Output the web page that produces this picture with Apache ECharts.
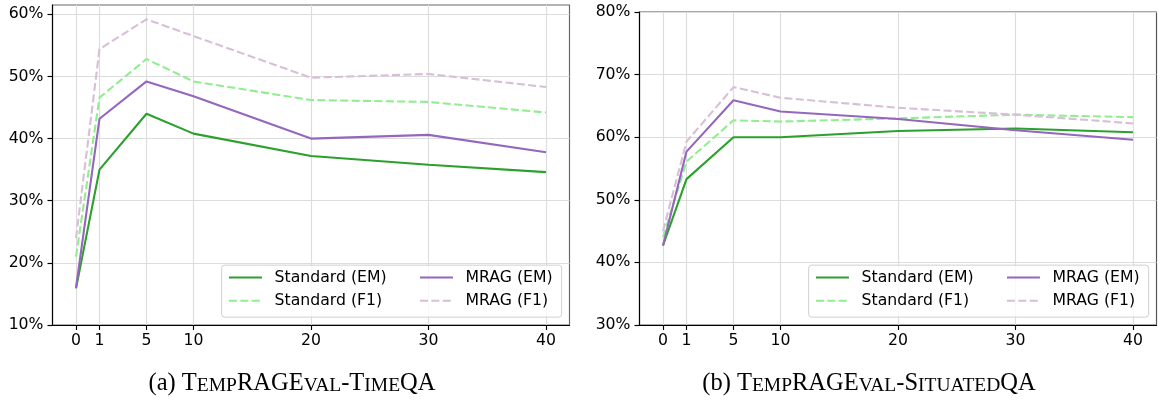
<!DOCTYPE html>
<html>
<head>
<meta charset="utf-8">
<script src="https://cdn.jsdelivr.net/npm/echarts@6/dist/echarts.min.js"></script>
<style>
html,body{margin:0;padding:0;background:#fff;}
#c{width:1158px;height:403px;}
</style>
</head>
<body>
<div id="c"></div>
<script>
// ---- data ----
// number of retrieved items (tick labels) and where each one sits on the x axis
var xTickLabels = [0, 1, 5, 10, 20, 30, 40];
var xPositions  = [0, 2, 6, 10, 20, 30, 40];
var yTicksA = [10, 20, 30, 40, 50, 60];
var yTicksB = [30, 40, 50, 60, 70, 80];
var seriesNames = ['Standard (EM)', 'Standard (F1)', 'MRAG (EM)', 'MRAG (F1)'];

// (a) TempRAGEval-TimeQA
var stdEM_a  = [15.9, 35.0, 44.0, 40.8, 37.2, 35.8, 34.6];
var stdF1_a  = [21.0, 46.6, 52.8, 49.2, 46.2, 45.9, 44.2];
var mragEM_a = [16.0, 43.2, 49.2, 46.8, 40.0, 40.6, 37.8];
var mragF1_a = [24.0, 54.4, 59.2, 56.5, 49.8, 50.4, 48.3];

// (b) TempRAGEval-SituatedQA
var stdEM_b  = [42.7, 53.3, 60.0, 60.0, 61.0, 61.4, 60.8];
var stdF1_b  = [44.0, 56.1, 62.7, 62.5, 63.0, 63.6, 63.2];
var mragEM_b = [42.7, 57.7, 65.9, 64.1, 62.9, 61.1, 59.6];
var mragF1_b = [45.0, 59.3, 68.0, 66.3, 64.7, 63.6, 62.2];

// ---- styles ----
var colors = ['#2ca02c', '#90ee90', '#9467bd', '#d8bfd8'];
var dashed = [false, true, false, true];
var FS = 15.7;
var FONT = 'DejaVu Sans';

function pairs(arr) { return xPositions.map(function (x, i) { return [x, arr[i]]; }); }
function posLabel(v) {
  var i = xPositions.indexOf(v);
  return i >= 0 ? String(xTickLabels[i]) : '';
}

var dataA = [stdEM_a, stdF1_a, mragEM_a, mragF1_a];
var dataB = [stdEM_b, stdF1_b, mragEM_b, mragF1_b];

var series = [];
[dataA, dataB].forEach(function (set, g) {
  set.forEach(function (arr, k) {
    series.push({
      type: 'line',
      name: seriesNames[k],
      xAxisIndex: g, yAxisIndex: g,
      data: pairs(arr),
      symbol: 'none',
      animation: false,
      lineStyle: { color: colors[k], width: 2.1, type: dashed[k] ? [8, 3.4] : 'solid' },
      itemStyle: { color: colors[k] },
      z: 2
    });
  });
});

var grids = [
  { left: 52.5, top: 5, width: 517, height: 320, show: true, borderColor: '#666', borderWidth: 1.15 },
  { left: 639.5, top: 12, width: 517, height: 313, show: true, borderColor: '#555', borderWidth: 1.15 }
];

function xAxis(g) {
  return {
    type: 'value', gridIndex: g, min: -2, max: 42,
    axisLine: { show: true, onZero: false, lineStyle: { color: '#000', width: 1.15 } },
    axisTick: { show: true, length: 5, inside: false, customValues: xPositions, lineStyle: { color: '#000', width: 1.15 } },
    axisLabel: { customValues: xPositions, color: '#000', fontFamily: FONT, fontSize: FS, margin: 8,
      formatter: posLabel },
    splitLine: { show: true, lineStyle: { color: '#dcdcdc', width: 1.15 } }
  };
}
function yAxis(g, min, max, ticks) {
  return {
    type: 'value', gridIndex: g, min: min, max: max,
    axisLine: { show: true, onZero: false, lineStyle: { color: '#000', width: 1.15 } },
    axisTick: { show: true, length: 5, inside: false, customValues: ticks, lineStyle: { color: '#000', width: 1.15 } },
    axisLabel: { customValues: ticks, color: '#000', fontFamily: FONT, fontSize: FS, margin: 9,
      formatter: function (v) { return v + '%'; } },
    splitLine: { show: true, lineStyle: { color: '#dcdcdc', width: 1.15 } }
  };
}

// legends: one per item, matplotlib-style 2 columns
var legends = [];
var graphics = [];
var axesRight = [569.5, 1156.5];
var axesBottom = 325;
axesRight.forEach(function (r, g) {
  var frameRight = r - 7.85;
  var frameW = 340, frameH = 52;
  var frameLeft = frameRight - frameW;
  var frameTop = axesBottom - 7.85 - frameH;
  graphics.push({
    type: 'rect', z: 10,
    shape: { x: frameLeft, y: frameTop, width: frameW, height: frameH, r: 3 },
    style: { fill: 'rgba(255,255,255,0.8)', stroke: '#d0d0d0', lineWidth: 1 }
  });
  var col1 = frameLeft + 6.3;
  var col2 = col1 + 33 + 12.6 + 114 + 31.4;
  var rows = [frameTop + 13.3, frameTop + 36.7];
  var pos = [[col1, rows[0]], [col1, rows[1]], [col2, rows[0]], [col2, rows[1]]];
  seriesNames.forEach(function (n, k) {
    legends.push({
      data: [n], left: pos[k][0], top: pos[k][1] - 9, padding: 0, z: 20,
      itemWidth: 33, itemHeight: 18, itemGap: 0, selectedMode: false,
      itemStyle: { color: 'rgba(0,0,0,0)', borderWidth: 0, opacity: 0 },
      textStyle: { fontFamily: FONT, fontSize: FS, color: '#000', padding: [0, 0, 0, 7.6] }
    });
  });
});

function capText(parts) {
  return parts.map(function (p) { return '{' + p[0] + '|' + p[1] + '}'; }).join('');
}
var rich = {
  B: { fontFamily: 'Liberation Serif', fontSize: 24.5, lineHeight: 26, verticalAlign: 'bottom', fill: '#000' },
  s: { fontFamily: 'Liberation Serif', fontSize: 19.5, lineHeight: 26, verticalAlign: 'bottom', fill: '#000' }
};
var capA = [['B', '(a) T'], ['s', 'EMP'], ['B', 'RAGE'], ['s', 'VAL'], ['B', '-T'], ['s', 'IME'], ['B', 'QA']];
var capB = [['B', '(b) T'], ['s', 'EMP'], ['B', 'RAGE'], ['s', 'VAL'], ['B', '-S'], ['s', 'ITUATED'], ['B', 'QA']];
graphics.push({ type: 'text', z: 10, style: { x: 292, y: 383, text: capText(capA), rich: rich, align: 'center', verticalAlign: 'middle' } });
graphics.push({ type: 'text', z: 10, style: { x: 869, y: 383, text: capText(capB), rich: rich, align: 'center', verticalAlign: 'middle' } });

var chart = echarts.init(document.getElementById('c'), null, { renderer: 'canvas' });
chart.setOption({
  animation: false,
  backgroundColor: '#fff',
  grid: grids,
  xAxis: [xAxis(0), xAxis(1)],
  yAxis: [yAxis(0, 10, 61.5, yTicksA), yAxis(1, 30, 80, yTicksB)],
  legend: legends,
  series: series,
  graphic: graphics
});
</script>
</body>
</html>
